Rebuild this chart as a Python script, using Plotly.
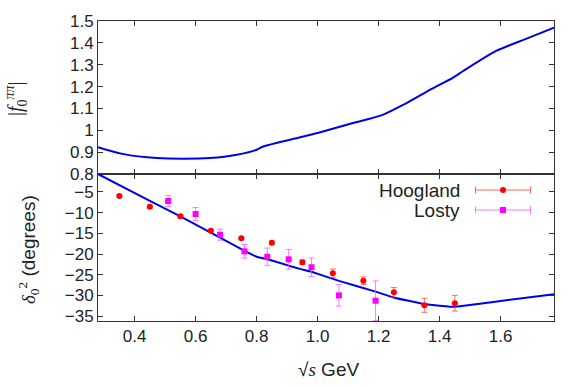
import plotly.graph_objects as go

# ---- data ----
top_x = [0.28, 0.364, 0.473, 0.56, 0.647, 0.735, 0.80, 0.822, 0.909, 1.0, 1.116,
         1.209, 1.28, 1.368, 1.443, 1.476, 1.585, 1.683, 1.775]
top_y = [0.923, 0.891, 0.873, 0.870, 0.873, 0.888, 0.911, 0.926, 0.957, 0.988, 1.033,
         1.068, 1.116, 1.185, 1.240, 1.270, 1.363, 1.418, 1.469]

bot_x = [0.28, 0.45, 0.55, 0.762, 0.80, 0.833, 0.905, 0.942, 0.98, 1.07, 1.19, 1.249,
         1.349, 1.433, 1.449, 1.564, 1.775]
bot_y = [-0.65, -7.15, -10.9, -19.3, -20.65, -21.2, -22.8, -23.6, -24.3, -26.5, -29.1, -30.5,
         -32.1, -32.75, -32.75, -31.7, -29.7]

hoog_x = [0.35, 0.45, 0.55, 0.65, 0.75, 0.85, 0.95, 1.05, 1.15, 1.25, 1.35, 1.45]
hoog_y = [-6.0, -8.56, -10.88, -14.36, -16.2, -17.27, -22.0, -24.67, -26.46, -29.27, -32.4, -31.9]
hoog_e = [0.3, 0.3, 0.3, 0.3, 0.3, 0.4, 0.55, 1.04, 0.92, 1.16, 1.7, 1.9]

losty_x = [0.51, 0.60, 0.68, 0.76, 0.835, 0.905, 0.98, 1.07, 1.19]
losty_y = [-7.18, -10.32, -15.33, -19.35, -20.65, -21.28, -23.2, -30.0, -31.3]
losty_e = [1.33, 1.57, 1.33, 1.65, 2.1, 2.37, 2.25, 2.6, 4.8]

x_ticks = [0.4, 0.6, 0.8, 1.0, 1.2, 1.4, 1.6]
top_ticks = [0.8, 0.9, 1.0, 1.1, 1.2, 1.3, 1.4, 1.5]
top_ticktext = ["0.8", "0.9", "1", "1.1", "1.2", "1.3", "1.4", "1.5"]
bot_ticks = [-5, -10, -15, -20, -25, -30, -35]

BLUE = "#0000e6"
RED = "#ff0000"
MAG = "#ff00ff"
TXT = "#222222"
FONT = "Liberation Sans, Arial, sans-serif"
SERIF = "Liberation Serif, DejaVu Serif, serif"

fig = go.Figure()
fig.add_trace(go.Scatter(x=top_x, y=top_y, mode="lines",
                         line=dict(color=BLUE, width=2, shape="spline", smoothing=0.6),
                         xaxis="x", yaxis="y", showlegend=False))
fig.add_trace(go.Scatter(x=bot_x, y=bot_y, mode="lines",
                         line=dict(color=BLUE, width=2, shape="spline", smoothing=0.3),
                         xaxis="x2", yaxis="y2", showlegend=False))
fig.add_trace(go.Scatter(x=hoog_x, y=hoog_y, mode="markers", name="Hoogland",
                         marker=dict(symbol="circle", size=6, color=RED),
                         error_y=dict(type="data", array=hoog_e, color="rgba(255,60,60,0.75)",
                                      thickness=1, width=3),
                         xaxis="x2", yaxis="y2", showlegend=False))
fig.add_trace(go.Scatter(x=losty_x, y=losty_y, mode="markers", name="Losty",
                         marker=dict(symbol="square", size=6, color=MAG),
                         error_y=dict(type="data", array=losty_e, color="rgba(255,80,255,0.75)",
                                      thickness=1, width=3),
                         xaxis="x2", yaxis="y2", showlegend=False))

axis_common = dict(showline=True, linecolor="#333333", linewidth=1, mirror="allticks",
                   ticks="inside", ticklen=5, tickcolor="#333333", showgrid=False,
                   zeroline=False, tickfont=dict(family=FONT, size=17, color=TXT))

XR = [0.28, 1.775]
fig.update_layout(
    width=581, height=387,
    margin=dict(l=98, r=27, t=21, b=66),
    plot_bgcolor="white", paper_bgcolor="white",
    xaxis=dict(domain=[0, 1], range=XR, tickvals=x_ticks, showticklabels=False,
               anchor="y", **axis_common),
    yaxis=dict(domain=[0.49, 1], range=[0.8, 1.5], tickvals=top_ticks,
               ticktext=top_ticktext, anchor="x", **axis_common),
    xaxis2=dict(domain=[0, 1], range=XR, tickvals=x_ticks, tickformat=".1f",
                anchor="y2", **axis_common),
    yaxis2=dict(domain=[0, 0.49], range=[-36.2, -0.65], tickvals=bot_ticks,
                anchor="x2", **axis_common),
    showlegend=False,
)

def px(x):
    return (x - 98) / 456.0

def py(y):
    return (321 - y) / 300.0

annotations = [
    dict(text="|<i>f</i><sub>0</sub><sup><i>ππ</i></sup>|", x=px(16), y=py(99), xref="paper",
         yref="paper", showarrow=False, textangle=-90, xanchor="center", yanchor="middle",
         font=dict(family=SERIF, size=20, color=TXT)),
    dict(text="<span style='font-family:Liberation Serif'><i>δ</i><sub>0</sub><sup>2</sup></span> (degrees)",
         x=px(28), y=py(250), xref="paper", yref="paper", showarrow=False, textangle=-90,
         xanchor="center", yanchor="middle", font=dict(family=FONT, size=19, color=TXT)),
    dict(text="√<span style='font-family:Liberation Serif'><i>s</i></span> GeV", x=px(328), y=py(369),
         xref="paper", yref="paper", showarrow=False, xanchor="center", yanchor="middle",
         font=dict(family=FONT, size=19, color=TXT)),
    dict(text="Hoogland", x=px(462), y=py(190), xref="paper", yref="paper", showarrow=False,
         xanchor="right", yanchor="middle", font=dict(family=FONT, size=19, color=TXT)),
    dict(text="Losty", x=px(462), y=py(210), xref="paper", yref="paper", showarrow=False,
         xanchor="right", yanchor="middle", font=dict(family=FONT, size=19, color=TXT)),
]

shapes = []
for row_y, col, sym in [(190, "rgba(255,60,60,0.8)", "circle"), (210, "rgba(255,80,255,0.8)", "square")]:
    x0, x1, xm = 475.5, 530.5, 503
    shapes.append(dict(type="line", xref="paper", yref="paper", x0=px(x0), x1=px(x1),
                       y0=py(row_y), y1=py(row_y), line=dict(color=col, width=1)))
    for xc in (x0, x1):
        shapes.append(dict(type="line", xref="paper", yref="paper", x0=px(xc), x1=px(xc),
                           y0=py(row_y - 3.5), y1=py(row_y + 3.5), line=dict(color=col, width=1)))
    fill = RED if sym == "circle" else MAG
    shapes.append(dict(type=sym if sym == "circle" else "rect", xref="paper", yref="paper",
                       x0=px(xm - 3), x1=px(xm + 3), y0=py(row_y - 3), y1=py(row_y + 3),
                       fillcolor=fill, line=dict(color=fill, width=0)))

fig.update_layout(annotations=annotations, shapes=shapes)
fig.write_html("out.html", config={"displayModeBar": False},
               post_script="document.body.style.margin='0px';document.body.style.padding='0px';")
